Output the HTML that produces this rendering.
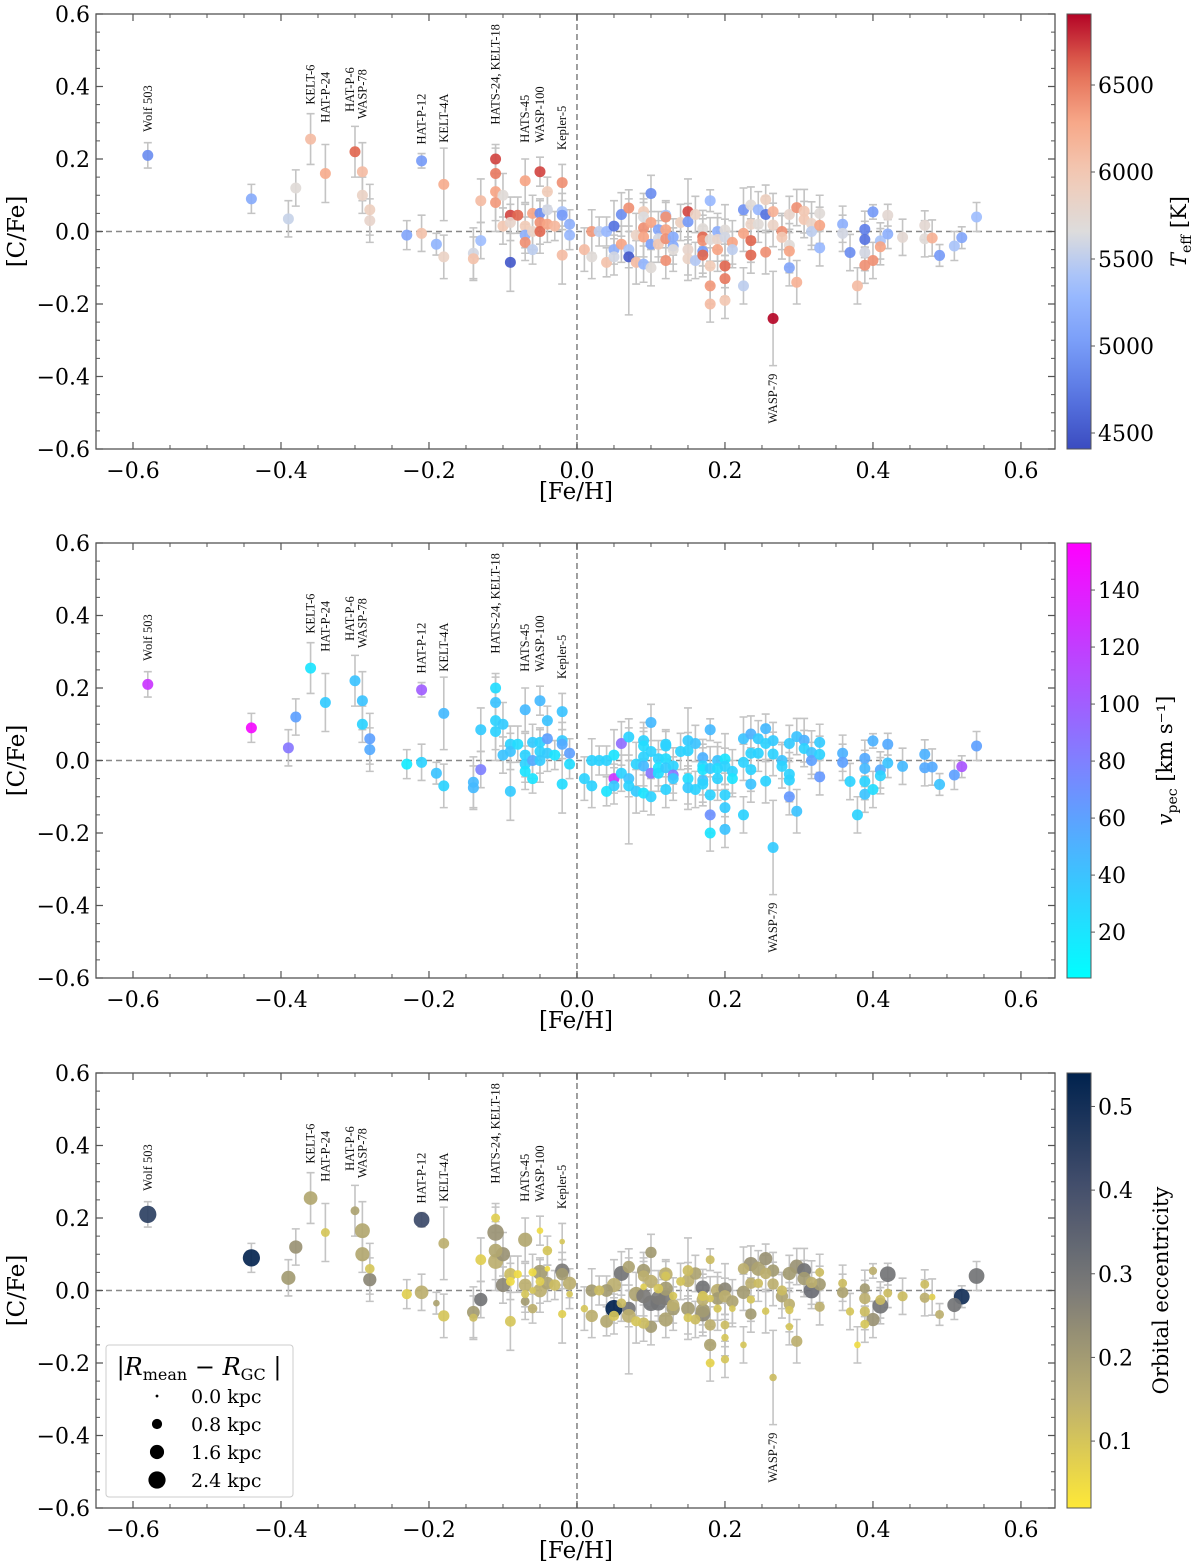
<!DOCTYPE html>
<html><head><meta charset="utf-8">
<style>
html,body{margin:0;padding:0;background:#fff;}
svg{display:block;}
</style></head>
<body>
<svg id="fig" width="1200" height="1567" viewBox="0 0 1200 1567" xmlns="http://www.w3.org/2000/svg"></svg>
<script>
const feh=[-0.58,-0.44,-0.39,-0.38,-0.36,-0.34,-0.30,-0.29,-0.29,-0.28,-0.28,-0.23,-0.21,-0.21,-0.19,-0.18,-0.18,-0.14,-0.14,-0.13,-0.13,-0.11,-0.11,-0.11,-0.11,-0.10,-0.10,-0.09,-0.09,-0.09,-0.08,-0.07,-0.07,-0.07,-0.07,-0.06,-0.06,-0.06,-0.05,-0.05,-0.05,-0.05,-0.04,-0.04,-0.04,-0.03,-0.02,-0.02,-0.02,-0.02,-0.01,-0.01,
0.01,0.02,0.02,0.03,0.04,0.04,0.05,0.05,0.05,0.06,0.06,0.07,0.07,0.07,0.08,0.08,0.09,0.09,0.09,0.09,0.09,0.10,0.10,0.10,0.10,0.11,0.11,0.11,0.12,0.12,0.12,0.12,0.12,0.13,0.13,0.13,0.14,0.15,0.15,0.15,0.15,0.16,0.16,0.17,0.17,0.17,0.17,0.17,0.18,0.18,0.18,0.18,0.18,0.19,0.19,0.19,0.20,0.20,0.20,0.20,0.20,0.21,0.21,0.225,0.225,0.225,0.235,0.235,0.235,0.235,0.245,0.245,0.255,0.255,0.255,0.265,0.265,0.265,0.277,0.277,0.287,0.287,0.287,0.287,0.297,0.297,0.307,0.307,0.317,0.317,0.328,0.328,0.328,0.359,0.359,0.369,0.379,0.389,0.389,0.389,0.389,0.40,0.40,0.41,0.41,0.42,0.42,0.44,0.47,0.47,0.48,0.49,0.51,0.52,0.54];
const cfe=[0.21,0.09,0.035,0.12,0.255,0.16,0.22,0.165,0.10,0.06,0.03,-0.01,-0.005,0.195,-0.035,0.13,-0.07,-0.06,-0.075,0.085,-0.025,0.20,0.16,0.11,0.08,0.10,0.015,0.045,0.025,-0.085,0.045,0.14,0.015,-0.01,-0.03,0.05,0.0,-0.05,0.165,0.05,0.025,0.0,0.11,0.06,0.02,0.015,0.135,0.055,0.045,-0.065,0.02,-0.01,
-0.05,0.0,-0.07,0.0,0.0,-0.085,0.015,-0.05,-0.07,0.047,-0.035,0.065,-0.05,-0.07,-0.01,-0.085,0.055,0.04,0.01,-0.015,-0.09,0.105,0.025,-0.035,-0.10,0.005,-0.02,-0.035,0.045,0.04,0.005,-0.02,-0.08,-0.015,-0.04,-0.05,0.025,0.055,0.027,-0.05,-0.075,0.047,-0.08,0.008,-0.015,-0.025,-0.055,-0.065,0.085,-0.022,-0.095,-0.15,-0.20,0.0,-0.022,-0.05,0.004,-0.016,-0.095,-0.13,-0.19,-0.03,-0.05,0.06,-0.005,-0.15,0.073,0.02,-0.025,-0.065,0.06,0.02,0.088,0.047,-0.057,0.055,0.018,-0.24,0.0,-0.016,0.047,-0.038,-0.054,-0.10,0.066,-0.14,0.056,0.033,0.022,0.0,0.05,0.017,-0.045,0.02,-0.005,-0.058,-0.15,0.006,-0.022,-0.058,-0.093,0.054,-0.08,-0.026,-0.042,0.045,-0.007,-0.016,0.017,-0.02,-0.018,-0.066,-0.04,-0.017,0.04];
const err=[0.035,0.04,0.05,0.05,0.07,0.08,0.07,0.08,0.05,0.07,0.06,0.04,0.05,0.02,0.03,0.10,0.06,0.07,0.06,0.06,0.05,0.04,0.07,0.08,0.08,0.06,0.05,0.05,0.05,0.08,0.05,0.06,0.06,0.05,0.05,0.05,0.05,0.04,0.04,0.04,0.06,0.06,0.04,0.05,0.05,0.04,0.05,0.05,0.04,0.08,0.04,0.04,
0.06,0.06,0.06,0.04,0.04,0.04,0.07,0.04,0.05,0.06,0.05,0.05,0.05,0.16,0.06,0.06,0.05,0.04,0.08,0.07,0.05,0.05,0.07,0.05,0.05,0.05,0.05,0.05,0.04,0.04,0.05,0.05,0.05,0.05,0.05,0.06,0.05,0.09,0.05,0.07,0.06,0.05,0.05,0.05,0.05,0.07,0.07,0.05,0.03,0.06,0.05,0.05,0.05,0.05,0.06,0.06,0.07,0.05,0.06,0.05,0.05,0.06,0.05,0.06,0.05,0.05,0.05,0.05,0.06,0.05,0.05,0.05,0.04,0.05,0.06,0.05,0.06,0.13,0.05,0.06,0.05,0.06,0.06,0.05,0.05,0.06,0.06,0.05,0.06,0.05,0.05,0.05,0.05,0.05,0.05,0.05,0.05,0.05,0.05,0.05,0.05,0.02,0.05,0.05,0.05,0.03,0.04,0.05,0.04,0.05,0.05,0.03,0.04,0.03,0.04];
const teff=[4900,5150,5550,5700,6100,6250,6600,6100,5850,5900,5800,5100,6050,5000,5250,6250,5850,5600,6050,6100,5350,6700,6500,6300,6350,5700,6000,6700,5800,4500,6600,6300,5950,5200,6400,6300,5850,5500,6700,4900,6400,6600,5950,5600,6300,6150,6400,5400,5000,6100,5200,5300,
6100,6350,5700,5500,5300,6050,4700,5200,5600,4900,6300,6400,5400,4500,5850,6100,5950,5650,6400,6300,5250,4900,6300,5050,5700,5100,5600,6000,5400,6400,6300,6400,6400,5150,5150,5700,5900,6700,5000,5800,5850,5850,5450,5700,6600,6400,5000,6600,5300,5700,5950,6350,6100,5200,5800,6300,5700,5600,6600,6500,6000,6300,5500,4950,6300,5500,5700,5850,6600,6600,5300,5700,5900,4700,6400,6200,5850,6900,6400,6000,5800,5700,6300,5100,6400,6200,6000,6000,5850,5500,5700,6300,5300,5200,5600,4900,6100,4800,4700,5600,6400,5000,6400,5400,6300,5750,5200,5750,5750,5700,6200,5000,5400,5100,5350];
const vpec=[125,150,85,60,20,35,40,40,30,60,55,15,30,100,40,45,30,45,45,35,80,25,40,30,30,35,40,30,40,35,25,45,30,30,20,35,55,20,45,30,30,35,40,60,35,20,40,35,55,25,60,25,
30,30,30,30,30,20,20,125,35,90,30,30,40,30,30,35,30,25,30,45,20,45,30,85,30,30,20,25,30,30,25,35,30,30,85,35,30,35,30,25,35,40,30,50,30,20,40,30,45,35,30,70,20,40,25,30,20,30,30,35,40,30,20,40,30,30,50,30,30,40,35,30,45,30,30,35,30,35,40,30,35,30,30,65,40,40,50,30,40,60,35,30,65,50,60,30,30,55,45,30,40,50,25,55,30,55,40,45,50,55,55,40,60,105,60];
const ecc=[0.45,0.53,0.2,0.22,0.17,0.1,0.18,0.17,0.17,0.1,0.25,0.08,0.15,0.42,0.18,0.15,0.1,0.2,0.12,0.08,0.3,0.08,0.22,0.17,0.15,0.22,0.25,0.12,0.05,0.1,0.05,0.17,0.15,0.1,0.2,0.05,0.1,0.15,0.05,0.2,0.08,0.15,0.1,0.05,0.18,0.12,0.1,0.28,0.2,0.08,0.15,0.1,
0.1,0.2,0.15,0.12,0.2,0.17,0.15,0.54,0.1,0.3,0.12,0.18,0.3,0.15,0.18,0.1,0.2,0.15,0.08,0.28,0.12,0.2,0.15,0.3,0.2,0.1,0.28,0.3,0.15,0.1,0.2,0.28,0.18,0.1,0.15,0.2,0.1,0.12,0.15,0.2,0.1,0.18,0.12,0.3,0.1,0.15,0.2,0.25,0.12,0.1,0.15,0.18,0.07,0.15,0.2,0.1,0.25,0.15,0.12,0.1,0.1,0.18,0.1,0.15,0.2,0.1,0.22,0.15,0.1,0.2,0.18,0.12,0.22,0.15,0.1,0.2,0.15,0.12,0.12,0.18,0.2,0.15,0.1,0.1,0.22,0.15,0.3,0.2,0.15,0.32,0.12,0.2,0.15,0.12,0.18,0.1,0.05,0.2,0.15,0.12,0.1,0.15,0.22,0.12,0.3,0.3,0.12,0.12,0.12,0.15,0.08,0.15,0.3,0.5,0.3];
const dR=[2.4,2.4,1.6,1.4,1.5,0.6,0.6,1.8,1.6,0.7,1.4,0.8,1.5,2.0,0.3,0.9,1.0,1.3,0.5,0.9,1.4,0.6,2.2,1.5,1.8,1.6,1.6,1.2,0.6,0.9,0.5,1.6,1.3,0.5,0.6,0.5,0.3,0.7,0.3,1.8,0.6,1.5,0.7,0.2,1.3,1.0,0.2,1.6,1.2,0.5,1.4,0.3,
0.4,1.2,1.2,0.8,1.3,1.3,1.6,2.4,0.8,1.8,0.7,1.2,1.5,1.5,1.7,0.8,1.4,1.0,0.3,1.7,1.0,1.0,1.4,2.0,1.2,0.7,1.6,1.8,1.5,0.6,1.6,1.8,1.6,0.5,1.2,1.4,0.6,0.9,1.3,1.5,0.6,1.2,0.8,1.6,0.8,1.2,1.6,1.8,0.6,0.4,1.0,1.2,0.6,1.4,1.3,0.5,1.4,1.2,0.6,0.4,0.5,1.2,0.3,1.0,1.4,0.3,1.6,1.0,0.5,1.0,1.6,0.7,1.4,1.0,0.4,1.2,1.0,0.4,0.8,1.2,1.4,1.0,0.5,0.4,1.6,1.0,1.6,1.4,1.0,2.0,0.6,1.2,0.8,0.6,1.0,0.5,0.3,0.8,1.0,0.8,0.6,0.5,1.4,0.8,2.0,2.0,0.6,0.8,0.6,0.8,0.3,0.6,1.6,2.0,2.0];
const xTicks=[-0.6,-0.4,-0.2,0.0,0.2,0.4,0.6];
const yTicks=[-0.6,-0.4,-0.2,0.0,0.2,0.4,0.6];
const labelNames=["Wolf 503","KELT-6","HAT-P-24","HAT-P-6","WASP-78","HAT-P-12","KELT-4A","HATS-24, KELT-18","HATS-45","WASP-100","Kepler-5"];
const labelFeh=[-0.58,-0.36,-0.34,-0.307,-0.29,-0.21,-0.18,-0.11,-0.07,-0.05,-0.02];
const labelCfe=[0.275,0.35,0.30,0.33,0.31,0.24,0.245,0.295,0.245,0.245,0.225];
const teffTicks=[4500,5000,5500,6000,6500];
const vpecTicks=[20,40,60,80,100,120,140];
const eccTicks=[0.1,0.2,0.3,0.4,0.5];
const legendKpc=[0.0,0.8,1.6,2.4];

const NS="http://www.w3.org/2000/svg";
const svg=document.getElementById('fig');
const SERIF='"DejaVu Serif","Liberation Serif",serif';
function mk(tag,attrs,parent){const e=document.createElementNS(NS,tag);for(const k in attrs)e.setAttribute(k,attrs[k]);(parent||svg).appendChild(e);return e;}
const X0=96,X1=1055,XMIN=-0.65,XMAX=0.646;
function sx(v){return X0+(v-XMIN)/(XMAX-XMIN)*(X1-X0);}
function lerpStops(stops,t){t=Math.max(0,Math.min(1,t));for(let i=0;i<stops.length-1;i++){const a=stops[i],b=stops[i+1];if(t<=b[0]){const f=(t-a[0])/(b[0]-a[0]||1);return `rgb(${Math.round(a[1]+(b[1]-a[1])*f)},${Math.round(a[2]+(b[2]-a[2])*f)},${Math.round(a[3]+(b[3]-a[3])*f)})`;}}const l=stops[stops.length-1];return `rgb(${l[1]},${l[2]},${l[3]})`;}
const coolwarm=[[0,59,76,192],[0.125,89,119,227],[0.25,123,159,249],[0.375,158,190,255],[0.5,221,220,220],[0.625,242,203,183],[0.75,247,168,137],[0.875,226,105,82],[1,180,4,38]];
const cool=[[0,0,255,255],[1,255,0,255]];
const cividisR=[[0,254,232,56],[0.25,188,175,111],[0.5,124,123,120],[0.75,65,77,107],[1,0,34,78]];
const panels=[
 {top:14,name:'teff',cmap:coolwarm,vals:teff,vmin:4408,vmax:6908,ticks:teffTicks,clabel:'T',sub:'eff',unit:' [K]',lx:1186},
 {top:543,name:'vpec',cmap:cool,vals:vpec,vmin:3.9,vmax:156.5,ticks:vpecTicks,clabel:'v',sub:'pec',unit:' [km s⁻¹]',lx:1172},
 {top:1073,name:'ecc',cmap:cividisR,vals:ecc,vmin:0.02,vmax:0.54,ticks:eccTicks,clabel:'Orbital eccentricity',lx:1168}
];
panels.forEach((p,pi)=>{
 const T=p.top,B=T+435;
 const sy=v=>T+(0.6-v)/1.2*(B-T);
 const g=mk('g',{});
 
 
 const hl=mk('line',{x1:X0,x2:X1,y1:sy(0),y2:sy(0),stroke:'#888','stroke-width':1.6,'stroke-dasharray':'6,4'},g);
 
 const vl=mk('line',{x1:sx(0),x2:sx(0),y1:T,y2:B,stroke:'#888','stroke-width':1.6,'stroke-dasharray':'6,4'},g);
 
 const n=Math.min(feh.length,cfe.length,err.length,p.vals.length,dR.length);
 for(let i=0;i<n;i++){
  const x=sx(feh[i]),y1=sy(cfe[i]+err[i]),y2=sy(cfe[i]-err[i]);
  const eb=mk('path',{d:`M${x},${y1}V${y2}M${x-4},${y1}H${x+4}M${x-4},${y2}H${x+4}`,stroke:'#c4c4c4','stroke-width':1.6,fill:'none'},g);
  
 }
 const order=[...Array(n).keys()];
 if(pi===2)order.sort((a,b)=>dR[b]-dR[a]);
 order.forEach(i=>{
  const r=pi===2?Math.sqrt(2+dR[i]*30):5.5;
  const c=lerpStops(p.cmap,(p.vals[i]-p.vmin)/(p.vmax-p.vmin));
  const pt=mk('circle',{cx:sx(feh[i]),cy:sy(cfe[i]),r:r,fill:c,'fill-opacity':0.92},g);
  
 });
 for(let k=0;k<labelNames.length;k++){
  const x=sx(labelFeh[k]),y=sy(labelCfe[k]);
  const t=mk('text',{x:0,y:0,transform:`translate(${x+4},${y}) rotate(-90)`,'font-family':'"Liberation Serif","DejaVu Serif",serif','font-size':12.5,fill:'#111'},g);
  t.textContent=labelNames[k];
  
 }
 const w=mk('text',{x:0,y:0,transform:`translate(${sx(0.265)+4},${sy(-0.53)}) rotate(-90)`,'font-family':'"Liberation Serif","DejaVu Serif",serif','font-size':12.5,fill:'#111'},g);
 w.textContent='WASP-79';
 const fr=mk('rect',{x:X0,y:T,width:X1-X0,height:B-T,fill:'none',stroke:'#555','stroke-width':1.3},g);
 
 xTicks.forEach(v=>{
  const x=sx(v);
  mk('path',{d:`M${x},${B}v-7M${x},${T}v7`,stroke:'#555','stroke-width':1.2},g);
  const t=mk('text',{x:x,y:B+29,'text-anchor':'middle','font-family':SERIF,'font-size':22,fill:'#000'},g);
  t.textContent=(v<0?'−':'')+Math.abs(v).toFixed(1);
  
 });
 for(let v=-0.6;v<=0.64;v+=0.05){const x=sx(v);mk('path',{d:`M${x},${B}v-4M${x},${T}v4`,stroke:'#555','stroke-width':1},g);}
 yTicks.forEach(v=>{
  const y=sy(v);
  mk('path',{d:`M${X0},${y}h7M${X1},${y}h-7`,stroke:'#555','stroke-width':1.2},g);
  const t=mk('text',{x:X0-6,y:y+8,'text-anchor':'end','font-family':SERIF,'font-size':22,fill:'#000'},g);
  t.textContent=(v<0?'−':'')+Math.abs(v).toFixed(1);
  
 });
 for(let v=-0.6;v<=0.61;v+=0.05){const y=sy(v);mk('path',{d:`M${X0},${y}h4M${X1},${y}h-4`,stroke:'#555','stroke-width':1},g);}
 const xl=mk('text',{x:576,y:B+50,'text-anchor':'middle','font-family':SERIF,'font-size':23,fill:'#000'},g);
 xl.textContent='[Fe/H]';
 const yl=mk('text',{x:0,y:0,transform:`translate(24,${(T+B)/2}) rotate(-90)`,'text-anchor':'middle','font-family':SERIF,'font-size':23,fill:'#000'},g);
 yl.textContent='[C/Fe]';
 const gid='grad'+pi;
 const defs=mk('defs',{},g);
 const lg=mk('linearGradient',{id:gid,x1:0,y1:1,x2:0,y2:0},defs);
 for(let s=0;s<=20;s++){mk('stop',{offset:s/20,'stop-color':lerpStops(p.cmap,s/20)},lg);}
 const cb=mk('rect',{x:1067,y:T,width:24,height:B-T,fill:`url(#${gid})`,stroke:'#555','stroke-width':1},g);
 
 p.ticks.forEach(v=>{
  const y=B-(v-p.vmin)/(p.vmax-p.vmin)*(B-T);
  mk('path',{d:`M1091,${y}h4`,stroke:'#555','stroke-width':1},g);
  const t=mk('text',{x:1098,y:y+8,'font-family':SERIF,'font-size':22,fill:'#000'},g);
  t.textContent=pi===2?v.toFixed(1):String(v);
  
 });
 const cl=mk('text',{x:0,y:0,transform:`translate(${p.lx},${(T+B)/2}) rotate(-90)`,'text-anchor':'middle','font-family':SERIF,'font-size':21,fill:'#000'},g);
 if(p.sub){
  const a=mk('tspan',{'font-style':'italic'},cl);a.textContent=p.clabel;
  const b=mk('tspan',{'font-size':14,dy:5},cl);b.textContent=p.sub;
  const c=mk('tspan',{dy:-5},cl);c.textContent=p.unit;
 } else cl.textContent=p.clabel;
 
});
const lgd=mk('g',{});

mk('rect',{x:106,y:1345,width:187,height:152,rx:3,fill:'#fff',stroke:'#ccc','stroke-width':1},lgd);
const lt=mk('text',{x:199,y:1375,'text-anchor':'middle','font-family':SERIF,'font-size':24,fill:'#000'},lgd);
lt.textContent='|';
const lt1=mk('tspan',{'font-style':'italic'},lt);lt1.textContent='R';
const lt2=mk('tspan',{'font-size':16,dy:5},lt);lt2.textContent='mean';
const lt3=mk('tspan',{dy:-5},lt);lt3.textContent=' − ';
const lt4=mk('tspan',{'font-style':'italic'},lt);lt4.textContent='R';
const lt5=mk('tspan',{'font-size':16,dy:5},lt);lt5.textContent='GC';
const lt6=mk('tspan',{dy:-5},lt);lt6.textContent=' |';

legendKpc.forEach((v,k)=>{
 const y=1396+k*28;
 const c=mk('circle',{cx:157,cy:y,r:Math.sqrt(2+v*30),fill:'#000'},lgd);
 
 const t=mk('text',{x:191,y:y+7,'font-family':SERIF,'font-size':19,fill:'#000'},lgd);
 t.textContent=v.toFixed(1)+' kpc';
 
});
</script>
</body></html>
